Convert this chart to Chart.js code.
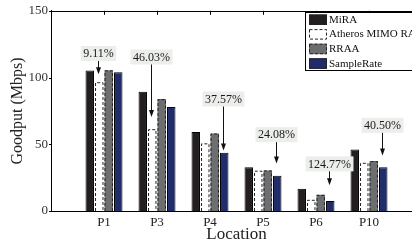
<!DOCTYPE html>
<html>
<head>
<meta charset="utf-8">
<script src="https://cdn.jsdelivr.net/npm/chart.js@4/dist/chart.umd.min.js"></script>
<style>
  html, body { margin: 0; padding: 0; background: #fff; overflow: hidden; }
  #wrap { width: 412px; height: 249px; overflow: hidden; }
</style>
</head>
<body>
<div id="wrap"><canvas id="goodput" width="440" height="249"></canvas></div>
<script>
// values (Mbps)
let categories = ['P1', 'P3', 'P4', 'P5', 'P6', 'P10'];
let mira = [105.2, 89.3, 59.2, 32.7, 16.6, 46.0];
let atheros = [96.5, 61.3, 50.7, 30.2, 8.4, 36.1];
let rraa = [105.4, 83.9, 58.1, 30.4, 12.1, 37.4];
let sampleRate = [104.0, 78.0, 43.6, 26.4, 7.5, 32.8];
let yTicks = [0, 50, 100, 150];

// improvement labels and which series each arrow points at
let gainLabels = ['9.11%', '46.03%', '37.57%', '24.08%', '124.77%', '40.50%'];
let gainTarget = [1, 1, 3, 3, 3, 3];
// where the label boxes sit and where the arrows end (in Mbps)
let gainBoxY = [118, 115.4, 83.9, 57.2, 35.3, 64.2];
let gainTipY = [102.4, 70.5, 45.3, 35.6, 19.3, 41.6];

const serif = "'Liberation Serif', 'DejaVu Serif', serif";

function toPoints(arr) {
    return arr.map((v, i) => ({ x: i + 1, y: v }));
}

// dashed outlines for the dashed series
const dashedBars = {
    id: 'dashedBars',
    afterDatasetsDraw(chart) {
        const ctx = chart.ctx;
        chart.data.datasets.forEach((ds, di) => {
            if (!ds.dashed) return;
            chart.getDatasetMeta(di).data.forEach(el => {
                const l = el.x - el.width / 2 + 0.5;
                const r = el.x + el.width / 2 - 0.5;
                ctx.save();
                ctx.strokeStyle = '#222';
                ctx.lineWidth = 1;
                ctx.setLineDash([3, 2]);
                ctx.beginPath();
                ctx.moveTo(l, el.base);
                ctx.lineTo(l, el.y + 0.5);
                ctx.lineTo(r, el.y + 0.5);
                ctx.lineTo(r, el.base);
                ctx.stroke();
                ctx.restore();
            });
        });
    }
};

// top frame line, tick marks, legend box and the % call-outs
const decorations = {
    id: 'decorations',
    afterDraw(chart) {
        const ctx = chart.ctx;
        const area = chart.chartArea;
        const xs = chart.scales.x;
        const ys = chart.scales.y;
        ctx.save();
        ctx.strokeStyle = '#000';
        ctx.lineWidth = 1;
        ctx.beginPath();
        ctx.moveTo(area.left, Math.round(area.top) + 0.5);
        ctx.lineTo(area.right, Math.round(area.top) + 0.5);
        ctx.moveTo(Math.round(area.right) - 0.5, area.top);
        ctx.lineTo(Math.round(area.right) - 0.5, area.bottom);
        categories.forEach((c, i) => {
            const px = Math.round(xs.getPixelForValue(i + 1)) + 0.5;
            ctx.moveTo(px, area.top);
            ctx.lineTo(px, area.top + 4);
        });
        yTicks.forEach(t => {
            const py = Math.round(ys.getPixelForValue(t)) + 0.5;
            ctx.moveTo(area.left - 2, py);
            ctx.lineTo(area.left, py);
        });
        ctx.stroke();

        // legend
        const lx = 305, ly = 12, lw = 116, lh = 58;
        ctx.fillStyle = '#fff';
        ctx.fillRect(lx, ly, lw, lh);
        ctx.strokeRect(lx + 0.5, ly + 0.5, lw, lh);
        ctx.font = '11px ' + serif;
        ctx.textBaseline = 'middle';
        ctx.textAlign = 'left';
        chart.data.datasets.forEach((ds, i) => {
            const cy = 19.5 + i * 14.6;
            ctx.fillStyle = ds.backgroundColor;
            ctx.fillRect(309, cy - 5, 18, 10.5);
            ctx.save();
            ctx.strokeStyle = '#222';
            if (ds.dashed) ctx.setLineDash([3, 2]);
            ctx.strokeRect(309.5, cy - 4.5, 17, 9.5);
            ctx.restore();
            ctx.fillStyle = '#111';
            ctx.fillText(ds.label, 329, cy + 0.5);
        });

        // call-outs
        ctx.font = '12px ' + serif;
        ctx.textAlign = 'center';
        gainLabels.forEach((txt, i) => {
            const el = chart.getDatasetMeta(gainTarget[i]).data[i];
            const ax = Math.round(el.x) - 0.5;
            const by = ys.getPixelForValue(gainBoxY[i]);
            const ty = ys.getPixelForValue(gainTipY[i]);
            const w = ctx.measureText(txt).width + 5;
            ctx.fillStyle = '#eceeeb';
            ctx.fillRect(ax - w / 2, by - 7.5, w, 15);
            ctx.fillStyle = '#1a1a1a';
            ctx.fillText(txt, ax, by + 0.5);
            ctx.strokeStyle = '#111';
            ctx.beginPath();
            ctx.moveTo(ax, by + 7.5);
            ctx.lineTo(ax, ty - 5);
            ctx.stroke();
            ctx.fillStyle = '#111';
            ctx.beginPath();
            ctx.moveTo(ax - 2.5, ty - 7);
            ctx.lineTo(ax + 2.5, ty - 7);
            ctx.lineTo(ax, ty);
            ctx.closePath();
            ctx.fill();
        });
        ctx.restore();
    }
};

let ctx = document.getElementById('goodput').getContext('2d');

let goodputChart = new Chart(ctx, {
    type: 'bar',
    data: {
        datasets: [
            { label: 'MiRA', data: toPoints(mira), backgroundColor: '#231f20', borderColor: '#000', borderWidth: 1 },
            { label: 'Atheros MIMO RA', data: toPoints(atheros), backgroundColor: '#ffffff', borderWidth: 0, dashed: true },
            { label: 'RRAA', data: toPoints(rraa), backgroundColor: '#6d6e70', borderWidth: 0, dashed: true },
            { label: 'SampleRate', data: toPoints(sampleRate), backgroundColor: '#212d6b', borderColor: '#000', borderWidth: 1 }
        ]
    },
    options: {
        responsive: false,
        animation: false,
        devicePixelRatio: 1,
        categoryPercentage: 0.717,
        barPercentage: 0.89,
        layout: { padding: { left: 0, top: 9, right: 18, bottom: 0 } },
        plugins: {
            legend: { display: false },
            tooltip: { enabled: false }
        },
        scales: {
            x: {
                type: 'linear',
                offset: false,
                min: 0,
                max: 7,
                grid: { display: false, drawTicks: false, offset: false },
                border: { display: true, color: '#000', width: 1 },
                afterBuildTicks: scale => {
                    scale.ticks = categories.map((c, i) => ({ value: i + 1 }));
                },
                afterFit: scale => { scale.height = 38; },
                ticks: {
                    autoSkip: false,
                    maxRotation: 0,
                    padding: 4,
                    color: '#222',
                    font: { family: serif, size: 13 },
                    callback: v => categories[v - 1] || ''
                },
                title: {
                    display: true,
                    text: 'Location',
                    color: '#222',
                    font: { family: serif, size: 17 },
                    padding: { top: 0, bottom: 4 }
                }
            },
            y: {
                min: 0,
                max: 150,
                grid: { display: false, drawTicks: false },
                border: { display: true, color: '#000', width: 1 },
                afterBuildTicks: scale => {
                    scale.ticks = yTicks.map(v => ({ value: v }));
                },
                afterFit: scale => { scale.width = 51; },
                ticks: {
                    padding: 3,
                    color: '#333',
                    font: { family: serif, size: 13 }
                },
                title: {
                    display: true,
                    text: 'Goodput (Mbps)',
                    color: '#222',
                    font: { family: serif, size: 16 },
                    padding: { top: 8, bottom: 0 }
                }
            }
        }
    },
    plugins: [dashedBars, decorations]
});
</script>
</body>
</html>
